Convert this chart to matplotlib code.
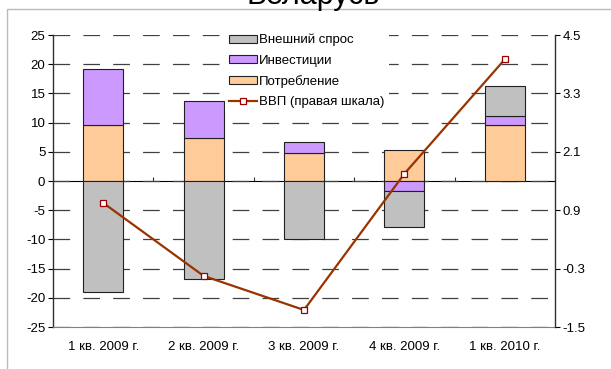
import numpy as np
import matplotlib
matplotlib.use("Agg")
import matplotlib.pyplot as plt
from matplotlib.patches import Rectangle

plt.rcParams['font.family'] = ['Liberation Sans', 'DejaVu Sans']
plt.rcParams['axes.unicode_minus'] = False
plt.rcParams['lines.scale_dashes'] = False

# data
quarters = ["1 кв. 2009 г.", "2 кв. 2009 г.", "3 кв. 2009 г.", "4 кв. 2009 г.", "1 кв. 2010 г."]
consumption = [9.6, 7.4, 4.8, 5.3, 9.6]
investment = [9.5, 6.3, 1.8, -1.7, 1.6]
external = [-19.0, -16.7, -10.0, -6.1, 5.0]
gdp = [1.05, -0.45, -1.15, 1.65, 4.0]
right_ticks = [-1.5, -0.3, 0.9, 2.1, 3.3, 4.5]

GREY = '#C0C0C0'
PURPLE = '#CC99FF'
PEACH = '#FFCC99'
LINE = '#993300'
FS = 9.5

W, H = 611, 369
fig = plt.figure(figsize=(W / 100, H / 100), dpi=100)

# outer chart border (goes past right and bottom edges)
fig.patches.append(Rectangle((7.5 / W, -0.1), 1.2, 1 - 9.5 / H + 0.1, transform=fig.transFigure,
                             fill=False, edgecolor='#BBBBBB', lw=1.0))

# title is cut by the top edge in the original
fig.text(313 / W, 1 - 4 / H, "Беларусь", ha='center', va='baseline', fontsize=22)

ax = fig.add_axes([53 / W, 1 - 327 / H, (555 - 53) / W, (327 - 35) / H])
x = np.arange(len(quarters))


def stack(vals_list):
    # excel style stacking: positives and negatives stacked separately
    pos = np.zeros(len(x))
    neg = np.zeros(len(x))
    bottoms = []
    for vals in vals_list:
        v = np.array(vals)
        b = np.where(v >= 0, pos, neg)
        bottoms.append(b)
        pos = pos + np.where(v >= 0, v, 0)
        neg = neg + np.where(v < 0, v, 0)
    return bottoms


b_cons, b_inv, b_ext = stack([consumption, investment, external])
bw = 0.4
ax.bar(x, consumption, bw, bottom=b_cons, color=PEACH, edgecolor='#202020', lw=0.8,
       label='Потребление', zorder=2)
ax.bar(x, investment, bw, bottom=b_inv, color=PURPLE, edgecolor='#202020', lw=0.8,
       label='Инвестиции', zorder=2)
ax.bar(x, external, bw, bottom=b_ext, color=GREY, edgecolor='#202020', lw=0.8,
       label='Внешний спрос', zorder=2)

ax.set_xlim(-0.5, len(x) - 0.5)
ax.set_ylim(-25, 25)
ax.set_yticks(np.arange(-25, 26, 5))
ax.set_xticks(x)
ax.set_xticklabels(quarters, fontsize=FS)
ax.tick_params(axis='x', length=0, pad=10)
ax.tick_params(axis='y', direction='out', length=3.5, width=0.8, labelsize=FS, pad=2)
ax.yaxis.grid(True, color='#404040', lw=0.9, dashes=(12, 9.5))
ax.set_axisbelow(True)
for s in ['top', 'right']:
    ax.spines[s].set_visible(False)
ax.spines['bottom'].set_color('#808080')
ax.spines['left'].set_color('#303030')
ax.spines['left'].set_linewidth(1.0)

# category axis at zero with boundary ticks
sec = ax.secondary_xaxis(0.5)
sec.set_xticks(x[:-1] + 0.5)
sec.set_xticklabels([])
sec.tick_params(direction='out', length=3, width=0.8, color='#303030')
sec.spines['bottom'].set_color('#808080')
sec.spines['bottom'].set_linewidth(1.0)

ax2 = ax.twinx()
ax2.plot(x, gdp, color=LINE, lw=1.6, marker='s', markersize=4.5, markerfacecolor='white',
         markeredgecolor='#990000', markeredgewidth=0.9, label='ВВП (правая шкала)', zorder=5)
ax2.set_ylim(-1.5, 4.5)
ax2.set_yticks(right_ticks)
ax2.set_yticklabels([f"{t:.1f}" for t in right_ticks])
ax2.tick_params(axis='y', direction='out', length=3.5, width=0.8, labelsize=FS, pad=2)
for s in ['top', 'left', 'bottom']:
    ax2.spines[s].set_visible(False)
ax2.spines['right'].set_color('#303030')
ax2.spines['right'].set_linewidth(1.0)

h1, l1 = ax.get_legend_handles_labels()
h2, l2 = ax2.get_legend_handles_labels()
order = [2, 1, 0]
handles = [h1[i] for i in order] + h2
labels = [l1[i] for i in order] + l2
leg = ax2.legend(handles, labels, loc='upper left', bbox_to_anchor=(225 / W, 1 - 30 / H),
                 bbox_transform=fig.transFigure, fontsize=FS, frameon=True, fancybox=False,
                 facecolor='white', edgecolor='none', framealpha=1, handlelength=2.1,
                 handleheight=0.55, handletextpad=0.2, labelspacing=0.62, borderpad=0.3,
                 borderaxespad=0)

fig.savefig("out.png", dpi=100)
